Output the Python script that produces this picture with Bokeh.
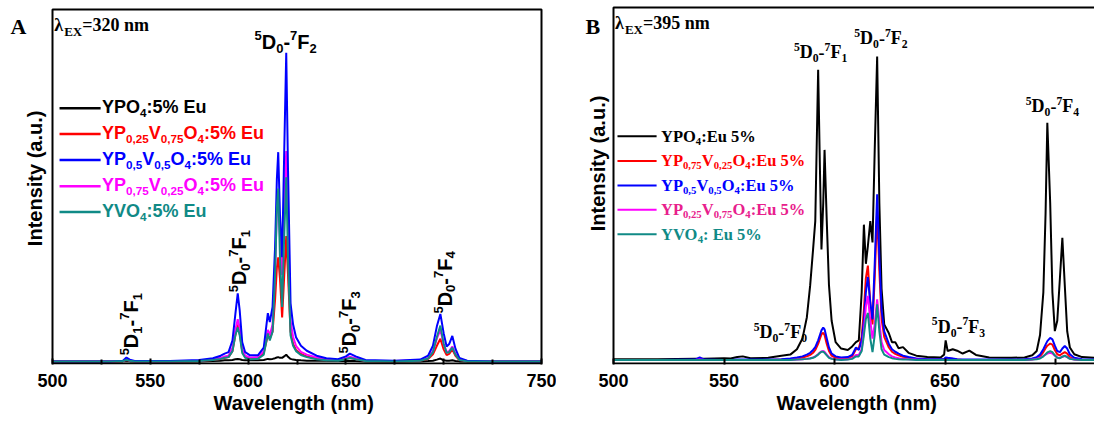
import math
from bokeh.plotting import figure
from bokeh.models import Range1d, Label, Arrow, FixedTicker, BoxAnnotation, Title
from bokeh.layouts import row
from bokeh.embed import file_html
from bokeh.resources import INLINE

# ---------------- data ----------------
A_wl = [500, 530, 536, 537.8, 539.5, 542, 560, 575, 582, 586,
        588, 590, 592, 593.5, 594.7, 595.7, 597, 598.5, 601, 605,
        608, 610.1, 611.1, 612.5, 613.8, 614.7, 615.4, 616.3, 617.4, 618.4,
        619.5, 620.4, 621.7, 623, 624.5, 627, 630, 635, 640, 646,
        650, 652, 655, 660, 675, 688, 692, 694.5, 696.5, 698.3,
        700, 701.5, 702.8, 704.4, 706, 708, 712, 725, 750]
A_ypo4 = [0.6, 0.6, 0.6, 0.7, 0.6, 0.6, 0.6, 0.6, 0.7, 0.8,
          0.9, 0.9, 1.0, 1.2, 1.3, 1.2, 1.0, 0.9, 0.9, 0.9,
          1.0, 1.3, 1.2, 1.3, 1.5, 1.7, 1.8, 1.6, 1.6, 2.0,
          2.5, 1.9, 1.3, 1.1, 1.0, 0.9, 0.8, 0.8, 0.8, 0.7,
          0.7, 0.8, 0.7, 0.6, 0.6, 0.6, 0.7, 0.8, 1.1, 1.4,
          0.9, 0.8, 0.8, 0.9, 0.7, 0.6, 0.6, 0.6, 0.6]
A_p25v75 = [0.6, 0.6, 0.7, 1.0, 0.8, 0.6, 0.6, 0.7, 1.0, 1.3,
            1.6, 1.8, 3.5, 8, 11, 8.5, 3.5, 1.9, 1.4, 1.5,
            3, 8, 7, 9, 18, 27, 30, 24, 13, 24,
            36, 25, 9, 5.5, 3.8, 2.7, 2, 1.4, 1.0, 0.9,
            1.3, 1.6, 1.3, 0.7, 0.6, 0.8, 1.3, 2.6, 5, 7,
            4, 2.4, 2.7, 4, 2.2, 1.0, 0.6, 0.6, 0.6]
A_p50v50 = [0.6, 0.6, 0.8, 1.7, 1.1, 0.7, 0.7, 1.0, 1.5, 2.2,
            2.8, 3.2, 6.5, 14, 19.8, 15, 6, 3.2, 2.3, 2.3,
            4.5, 14.2, 11.7, 16, 33, 52, 59.7, 42, 30, 58,
            87.8, 55, 17, 11, 7.4, 5, 3.6, 2.2, 1.5, 1.2,
            2.0, 2.8, 2.0, 1.0, 0.8, 1.1, 2.2, 5, 10.5, 14.0,
            8.5, 4.8, 5.5, 7.8, 4.2, 1.6, 0.8, 0.6, 0.6]
A_p75v25 = [0.6, 0.6, 0.7, 1.1, 0.8, 0.6, 0.6, 0.8, 1.2, 1.6,
            2.0, 2.2, 4.5, 9.5, 12.5, 10, 4, 2.2, 1.7, 1.8,
            3.5, 9.5, 8, 11, 26, 44, 47, 36, 25, 45,
            60, 40, 12, 7.5, 5, 3.3, 2.5, 1.7, 1.2, 1.0,
            1.5, 1.9, 1.5, 0.8, 0.7, 0.9, 1.6, 3.5, 7, 9.5,
            5.5, 3.2, 3.5, 4.8, 2.8, 1.2, 0.7, 0.6, 0.6]
A_yvo4 = [0.6, 0.6, 0.7, 1.0, 0.8, 0.6, 0.6, 0.7, 1.0, 1.3,
          1.6, 1.8, 3.5, 8, 10.2, 8, 3, 1.6, 1.2, 1.3,
          2.5, 8.5, 6.5, 9, 25, 44, 49.4, 30, 16, 35,
          52.6, 30, 8, 5, 3.5, 2.4, 1.8, 1.2, 0.9, 0.8,
          1.2, 1.6, 1.2, 0.7, 0.6, 0.8, 1.4, 3.2, 7.5, 10.7,
          5.5, 3, 3.2, 4.5, 2.5, 1.0, 0.6, 0.6, 0.6]

B_wl = [500, 520, 537, 539, 541, 550, 553, 556, 558.5, 562,
        570, 576, 580, 583, 585.5, 587.5, 589, 590.3, 591.3, 592.6,
        593.4, 594.1, 594.9, 595.5, 596.5, 597.5, 598.7, 600.5, 603, 606,
        608, 609.7, 611, 612.3, 613.3, 614.2, 615.1, 616.2, 617.2, 618.2,
        619.3, 620.3, 621.3, 622.5, 624.6, 626, 627.5, 629, 631, 633.5,
        637, 642, 648, 649.6, 650.3, 651.2, 653.5, 655.5, 658, 661,
        664, 670, 680, 686, 689.5, 691.5, 693, 694.5, 695.5, 696.3,
        697.6, 698.6, 699.7, 700.8, 702, 703.1, 704.2, 705.3, 706.5, 708.5,
        712, 720, 750]
B_ypo4 = [1.2, 1.2, 1.3, 1.3, 1.3, 1.5, 1.4, 1.8, 2.0, 1.5,
          1.6, 2.2, 2.5, 4, 7, 13, 22, 32, 40, 82.5,
          55, 32, 45, 60, 40, 22, 12, 6, 4.2, 3.8,
          4.8, 6, 6.5, 20, 39, 28, 33, 40, 34, 60,
          86.2, 45, 21, 11, 8.5, 6, 6, 4.3, 4.6, 3,
          2.2, 1.8, 1.7, 2.5, 6.5, 3.5, 4.0, 3.6, 2.8, 3.6,
          2.4, 1.7, 1.6, 1.7, 2.3, 3.5, 8, 20, 42, 67.6,
          45, 20, 9.1, 12, 24, 35.3, 22, 9, 4.5, 2.6,
          1.8, 1.5, 1.4]
B_p75v25 = [1.0, 1.0, 1.0, 1.2, 1.0, 1.0, 1.0, 1.0, 1.0, 1.0,
            1.0, 1.1, 1.2, 1.4, 1.7, 2.0, 2.4, 3.0, 3.8, 5.5,
            7, 8.2, 8.6, 8.0, 5.5, 3.5, 2.2, 1.6, 1.4, 1.5,
            2.0, 4.0, 4.3, 7.5, 15, 24, 27.5, 17, 11, 24,
            43, 26, 12.5, 7.5, 4.5, 3.3, 2.7, 2.3, 1.9, 1.6,
            1.3, 1.1, 1.1, 1.2, 1.5, 1.4, 1.3, 1.1, 1.0, 1.0,
            1.0, 1.0, 1.0, 1.0, 1.2, 1.5, 2.0, 3.2, 4.3, 5.0,
            5.6, 5.3, 3.8, 2.6, 2.3, 2.8, 3.2, 2.8, 1.8, 1.2,
            1.0, 1.0, 1.0]
B_p50v50 = [1.0, 1.0, 1.1, 1.7, 1.1, 1.0, 1.0, 1.1, 1.1, 1.1,
            1.1, 1.2, 1.4, 1.7, 2.0, 2.5, 3.0, 3.8, 4.6, 6.5,
            8, 9.3, 10.1, 9.6, 7, 4.5, 2.8, 2.0, 1.7, 1.8,
            2.4, 4.5, 3.8, 6.5, 12, 20, 24.3, 17, 12.4, 28,
            47.5, 30, 15, 9, 5.5, 4, 3.3, 2.8, 2.2, 1.8,
            1.4, 1.2, 1.2, 1.3, 1.7, 1.6, 1.4, 1.2, 1.1, 1.1,
            1.1, 1.1, 1.1, 1.2, 1.4, 1.8, 2.5, 4, 5.3, 6.3,
            7.2, 6.8, 5, 3.5, 3.2, 4.2, 4.9, 4.2, 2.6, 1.6,
            1.2, 1.1, 1.0]
B_p25v75 = [1.0, 1.0, 1.0, 1.1, 1.0, 1.0, 1.0, 1.0, 1.0, 1.0,
            1.0, 1.0, 1.0, 1.1, 1.2, 1.3, 1.5, 1.7, 2.0, 2.6,
            3.1, 3.4, 3.5, 3.3, 2.5, 1.8, 1.4, 1.2, 1.1, 1.2,
            1.5, 2.4, 2.4, 4, 9, 16, 19, 12, 7, 11,
            18, 12, 6, 3.8, 2.6, 2.0, 1.7, 1.5, 1.3, 1.2,
            1.1, 1.0, 1.0, 1.0, 1.0, 1.0, 1.0, 1.0, 1.0, 1.0,
            1.0, 1.0, 1.0, 1.0, 1.1, 1.3, 1.6, 2.1, 2.5, 2.8,
            3.0, 2.8, 2.2, 1.7, 1.6, 1.9, 2.1, 1.8, 1.4, 1.1,
            1.0, 1.0, 1.0]
B_yvo4 = [1.0, 1.0, 1.0, 1.0, 1.0, 1.0, 1.0, 1.0, 1.0, 1.0,
          1.0, 1.0, 1.0, 1.1, 1.2, 1.3, 1.4, 1.6, 1.9, 2.5,
          3.0, 3.3, 3.3, 3.0, 2.3, 1.6, 1.3, 1.1, 1.0, 1.1,
          1.3, 2.0, 2.0, 3.5, 8, 12.5, 14.2, 7, 3.2, 8,
          16.6, 9, 4, 2.5, 1.8, 1.5, 1.3, 1.2, 1.1, 1.1,
          1.0, 1.0, 1.0, 1.0, 1.0, 1.0, 1.0, 1.0, 1.0, 1.0,
          1.0, 1.0, 1.0, 1.0, 1.1, 1.2, 1.4, 2.0, 2.6, 3.1,
          3.5, 3.2, 2.3, 1.6, 1.5, 1.9, 2.2, 1.8, 1.3, 1.1,
          1.0, 1.0, 1.0]

A_ticks = [500, 550, 600, 650, 700, 750]
A_minor = [525, 575, 625, 675, 725]
B_ticks = [500, 550, 600, 650, 700]

# legend texts as (piece, kind): n = normal, b = subscript, p = superscript
A_legend = [
    [("YPO", "n"), ("4", "b"), (":5% Eu", "n")],
    [("YP", "n"), ("0,25", "b"), ("V", "n"), ("0,75", "b"), ("O", "n"), ("4", "b"), (":5% Eu", "n")],
    [("YP", "n"), ("0,5", "b"), ("V", "n"), ("0,5", "b"), ("O", "n"), ("4", "b"), (":5% Eu", "n")],
    [("YP", "n"), ("0,75", "b"), ("V", "n"), ("0,25", "b"), ("O", "n"), ("4", "b"), (":5% Eu", "n")],
    [("YVO", "n"), ("4", "b"), (":5% Eu", "n")],
]
B_legend = [
    [("YPO", "n"), ("4", "b"), (":Eu 5%", "n")],
    [("YP", "n"), ("0,75", "b"), ("V", "n"), ("0,25", "b"), ("O", "n"), ("4", "b"), (":Eu 5%", "n")],
    [("YP", "n"), ("0,5", "b"), ("V", "n"), ("0,5", "b"), ("O", "n"), ("4", "b"), (":Eu 5%", "n")],
    [("YP", "n"), ("0,25", "b"), ("V", "n"), ("0,75", "b"), ("O", "n"), ("4", "b"), (":Eu 5%", "n")],
    [("YVO", "n"), ("4", "b"), (": Eu 5%", "n")],
]


def trans(lo, hi):
    return [("5", "p"), ("D", "n"), (lo, "b"), ("-", "n"), ("7", "p"), ("F", "n"), (hi, "b")]


# ---------------- styles ----------------
LINE_COLORS = ["#000000", "#ff0000", "#0000ff", "#ff00ff", "#108a86"]
A_TEXT_COLORS = ["#000000", "#ff0000", "#0000ff", "#ff00ff", "#108a86"]
B_TEXT_COLORS = ["#000000", "#ff0000", "#0000ff", "#e8208c", "#108a86"]
SANS = "Liberation Sans"
SERIF = "Liberation Serif"
MID = {SANS: 0.35, SERIF: 0.34}   # height of the em-box middle above the baseline (em)

HB = {' ': 278, '%': 889, '(': 333, ')': 333, ',': 278, '-': 333, '.': 278, ':': 333, '=': 584,
      'A': 722, 'B': 722, 'D': 722, 'E': 667, 'F': 611, 'I': 278, 'O': 778, 'P': 667, 'V': 667,
      'W': 944, 'X': 667, 'Y': 667, 'a': 556, 'e': 556, 'g': 611, 'h': 611, 'i': 278, 'l': 278,
      'm': 889, 'n': 611, 's': 556, 't': 333, 'u': 611, 'y': 556}
TB = {' ': 250, '%': 1000, ',': 250, '-': 333, '.': 250, ':': 333, '=': 570,
      'A': 722, 'B': 667, 'D': 722, 'E': 667, 'F': 611, 'O': 778, 'P': 611, 'V': 722,
      'X': 722, 'Y': 722, 'm': 833, 'n': 556, 'u': 556, '\u03bb': 550}
for d in "0123456789":
    HB[d] = 556
    TB[d] = 500


def rich(p, x, y, parts, font, metrics, size, color, xs, ys, align="left", vertical=False,
         small=0.65, sub_shift=0.2, sup_shift=0.42):
    # (x, y) is the baseline start (or baseline centre) of the whole text, in data units
    items = []
    for t, k in parts:
        sz = size if k == "n" else size * small
        w = sum(metrics.get(c, 600) for c in t) * sz / 1000.0
        items.append((t, k, sz, w))
    total = sum(it[3] for it in items)
    d = -total / 2.0 if align == "center" else 0.0
    for t, k, sz, w in items:
        v = 0.0 if k == "n" else (-sub_shift * size if k == "b" else sup_shift * size)
        v += MID[font] * sz          # anchor at the middle of the piece's em-box
        if vertical:
            lx, ly, ang = x - v / xs, y + d / ys, math.pi / 2
        else:
            lx, ly, ang = x + d / xs, y + v / ys, 0.0
        p.add_layout(Label(x=lx, y=ly, text=t, text_font=font, text_font_size=f"{sz:.1f}px",
                           text_font_style="bold", text_color=color, text_baseline="middle",
                           text_align="left", angle=ang))
        d += w


def make_panel(frame_w, box_left_px, xs, ys, x_lo, ticks, minor, box_right, title_left):
    # frame covers the whole panel above the x axis; the data box is drawn inside it
    frame_h = 364
    x_start = x_lo - box_left_px / xs
    x_end = x_start + frame_w / xs
    y_start = -1.0 / ys
    y_end = y_start + frame_h / ys
    p = figure(frame_width=frame_w, frame_height=frame_h,
               x_range=Range1d(x_start, x_end), y_range=Range1d(y_start, y_end),
               output_backend="svg", toolbar_location=None, y_axis_location=None,
               min_border_left=0, min_border_right=0, min_border_top=0, min_border_bottom=58,
               background_fill_color="white", border_fill_color="white",
               outline_line_color=None)
    p.xgrid.visible = False
    p.ygrid.visible = False
    ax = p.xaxis[0]
    ax.ticker = FixedTicker(ticks=ticks, minor_ticks=minor)
    ax.axis_line_color = None
    ax.major_tick_in = 6
    ax.major_tick_out = 0
    ax.major_tick_line_width = 2
    ax.minor_tick_in = 5
    ax.minor_tick_out = 0
    ax.minor_tick_line_width = 2
    ax.major_label_text_font = SANS
    ax.major_label_text_font_style = "bold"
    ax.major_label_text_font_size = "18px"
    ax.major_label_text_color = "black"
    ax.major_label_standoff = 9
    p.add_layout(BoxAnnotation(left=x_lo, right=box_right, bottom=0, top=100,
                               fill_color=None, fill_alpha=0, line_color="black",
                               line_alpha=1.0, line_width=2), "center")
    p.add_layout(Title(text="Wavelength (nm)", align="left", offset=title_left, standoff=0,
                       text_font=SANS, text_font_size="20px", text_font_style="bold",
                       text_color="black"), "below")
    return p


# ---------------- panel A ----------------
axs, ays = 1.956, 3.54
pA = make_panel(556, 52, axs, ays, 500, A_ticks, A_minor, 750, 213)

A_series = [A_ypo4, A_p25v75, A_p75v25, A_p50v50, A_yvo4]
A_cols = [LINE_COLORS[0], LINE_COLORS[1], LINE_COLORS[3], LINE_COLORS[2], LINE_COLORS[4]]
for ys_, c in zip(A_series, A_cols):
    pA.line(A_wl, ys_, line_color=c, line_width=2)

A_leg_y = [72.1, 64.8, 57.5, 50.1, 42.8]
for i, (parts, ly) in enumerate(zip(A_legend, A_leg_y)):
    pA.add_layout(Arrow(end=None, x_start=503.6, y_start=ly, x_end=524.6, y_end=ly,
                        line_color=LINE_COLORS[i], line_width=2.5))
    rich(pA, 525.3, ly - 1.5, parts, SANS, HB, 18, A_TEXT_COLORS[i], axs, ays)

rich(pA, 619.2, 88.9, trans("0", "2"), SANS, HB, 20, "black", axs, ays, align="center")
for (lx, ly, lo, hi) in [(543.5, 2.3, "1", "1"), (599.0, 20.1, "0", "1"),
                         (655.4, 2.8, "0", "3"), (704.0, 14.1, "0", "4")]:
    rich(pA, lx, ly, trans(lo, hi), SANS, HB, 20, "black", axs, ays, vertical=True)

rich(pA, 500.9, 93.8, [("\u03bb", "n"), ("EX", "b"), ("=320 nm", "n")], SERIF, TB, 18, "black",
     axs, ays, small=0.72, sub_shift=0.22)
rich(pA, 478.5, 93.2, [("A", "n")], SERIF, TB, 22, "black", axs, ays)
pA.add_layout(Label(x=491.3, y=52.3, text="Intensity (a.u.)", text_font=SANS, text_font_size="20px",
                    text_font_style="bold", text_color="black", text_baseline="middle",
                    text_align="center", angle=math.pi / 2))

# ---------------- panel B ----------------
bxs, bys = 2.21, 3.56
pB = make_panel(538, 57, bxs, bys, 500, B_ticks, [], 800, 220)

B_series = [B_ypo4, B_p75v25, B_p50v50, B_p25v75, B_yvo4]
for ys_, c in zip(B_series, LINE_COLORS):
    pB.line(B_wl, ys_, line_color=c, line_width=2)

B_leg_y = [63.8, 56.9, 50.0, 43.2, 36.3]
for i, (parts, ly) in enumerate(zip(B_legend, B_leg_y)):
    pB.add_layout(Arrow(end=None, x_start=501.8, y_start=ly, x_end=519.5, y_end=ly,
                        line_color=LINE_COLORS[i], line_width=2))
    rich(pB, 521.5, ly - 1.5, parts, SERIF, TB, 16.5, B_TEXT_COLORS[i], bxs, bys)

for (lx, ly, lo, hi) in [(593.7, 85.7, "0", "1"), (621.0, 89.7, "0", "2"), (698.6, 70.6, "0", "4"),
                         (575.5, 7.1, "0", "0"), (656.1, 8.6, "0", "3")]:
    rich(pB, lx, ly, trans(lo, hi), SERIF, TB, 18, "black", bxs, bys, align="center")

rich(pB, 500.7, 93.8, [("\u03bb", "n"), ("EX", "b"), ("=395 nm", "n")], SERIF, TB, 18, "black",
     bxs, bys, small=0.72, sub_shift=0.22)
rich(pB, 487.3, 92.7, [("B", "n")], SERIF, TB, 22, "black", bxs, bys)
pB.add_layout(Label(x=492.8, y=56.2, text="Intensity (a.u.)", text_font=SANS, text_font_size="20px",
                    text_font_style="bold", text_color="black", text_baseline="middle",
                    text_align="center", angle=math.pi / 2))

layout = row(pA, pB)
open("out.html", "w").write(file_html(layout, INLINE))
